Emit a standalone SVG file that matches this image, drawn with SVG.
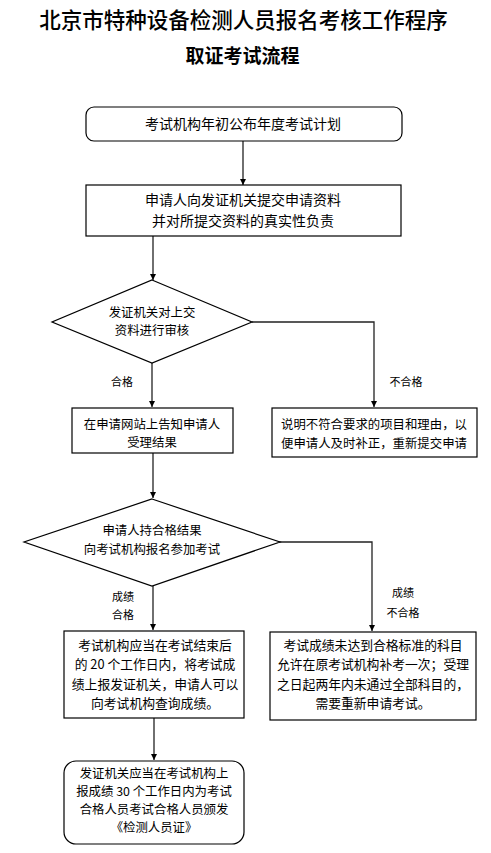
<svg xmlns="http://www.w3.org/2000/svg" width="491" height="853" viewBox="0 0 491 853">
<defs>
<style>
text{font-family:"Noto Sans CJK SC","Liberation Sans",sans-serif;fill:#000;text-anchor:middle}
.t{font-size:21.5px;font-weight:500}
.st{font-size:19px;font-weight:700}
.b14{font-size:14px}
.b13{font-size:12.8px}
.b12{font-size:12.4px}
.lb{font-size:11px}
.box{fill:#fff;stroke:#000;stroke-width:1.2}
.ln{fill:none;stroke:#222;stroke-width:1.3}
</style>
<marker id="ar" viewBox="0 0 10 10" refX="10" refY="5" markerWidth="6" markerHeight="7" markerUnits="userSpaceOnUse" orient="auto">
<path d="M0,0 L10,5 L0,10 z" fill="#000"/>
</marker>
</defs>
<rect width="491" height="853" fill="#fff"/>
<text class="t" x="243.5" y="28">北京市特种设备检测人员报名考核工作程序</text>
<text class="st" x="242.5" y="63">取证考试流程</text>

<g id="connectors">
<line class="ln" x1="243" y1="141" x2="243" y2="185" marker-end="url(#ar)"/>
<line class="ln" x1="153" y1="236" x2="153" y2="280" marker-end="url(#ar)"/>
<line class="ln" x1="152" y1="363" x2="152" y2="407" marker-end="url(#ar)"/>
<polyline class="ln" points="252,322 374,322 374,407" marker-end="url(#ar)"/>
<line class="ln" x1="153" y1="453" x2="153" y2="498" marker-end="url(#ar)"/>
<line class="ln" x1="153" y1="585" x2="153" y2="630" marker-end="url(#ar)"/>
<polyline class="ln" points="279,542 372,542 372,631" marker-end="url(#ar)"/>
<line class="ln" x1="154" y1="718" x2="154" y2="760" marker-end="url(#ar)"/>
<text class="lb" x="122" y="386">合格</text>
<text class="lb" x="406" y="386">不合格</text>
<text class="lb" x="123" y="601">成绩</text>
<text class="lb" x="123" y="619">合格</text>
<text class="lb" x="403" y="597">成绩</text>
<text class="lb" x="403" y="617">不合格</text>
</g>

<g id="n1">
<rect class="box" x="86" y="107" width="316" height="34" rx="8"/>
<text class="b14" x="243" y="129">考试机构年初公布年度考试计划</text>
</g>
<g id="n2">
<rect class="box" x="86" y="185" width="315" height="51"/>
<text class="b14" x="243" y="205">申请人向发证机关提交申请资料</text>
<text class="b14" x="243" y="226">并对所提交资料的真实性负责</text>
</g>
<g id="d1">
<polygon class="box" points="152,280 252,322 152,363 52,322"/>
<text class="b12" x="152" y="316.5">发证机关对上交</text>
<text class="b12" x="152" y="334.5">资料进行审核</text>
</g>
<g id="n3">
<rect class="box" x="72" y="408" width="161" height="45"/>
<text class="b12" x="152" y="428.5">在申请网站上告知申请人</text>
<text class="b12" x="152" y="446.5">受理结果</text>
</g>
<g id="n4">
<rect class="box" x="272" y="408" width="205" height="49"/>
<text class="b12" x="374" y="428.5">说明不符合要求的项目和理由，以</text>
<text class="b12" x="374" y="447.5">便申请人及时补正，重新提交申请</text>
</g>
<g id="d2">
<polygon class="box" points="152,499 280,542 152,586 24,542"/>
<text class="b12" x="152" y="534.5">申请人持合格结果</text>
<text class="b12" x="152" y="553.5">向考试机构报名参加考试</text>
</g>
<g id="n5">
<rect class="box" x="64" y="631" width="180" height="87"/>
<text class="b13" x="155" y="649.5">考试机构应当在考试结束后</text>
<text class="b13" x="155" y="669">的 20 个工作日内，将考试成</text>
<text class="b13" x="155" y="688.5">绩上报发证机关，申请人可以</text>
<text class="b13" x="155" y="707.5">向考试机构查询成绩。</text>
</g>
<g id="n6">
<rect class="box" x="270" y="632" width="206" height="88"/>
<text class="b13" x="373" y="649.5">考试成绩未达到合格标准的科目</text>
<text class="b13" x="373" y="669">允许在原考试机构补考一次；受理</text>
<text class="b13" x="373" y="688.5">之日起两年内未通过全部科目的，</text>
<text class="b13" x="373" y="707.5">需要重新申请考试。</text>
</g>
<g id="n7">
<rect class="box" x="64" y="761" width="180" height="83" rx="12"/>
<text class="b12" x="154" y="777.5">发证机关应当在考试机构上</text>
<text class="b12" x="154" y="795.5">报成绩 30 个工作日内为考试</text>
<text class="b12" x="154" y="813.5">合格人员考试合格人员颁发</text>
<text class="b12" x="154" y="831.5">《检测人员证》</text>
</g>
</svg>
